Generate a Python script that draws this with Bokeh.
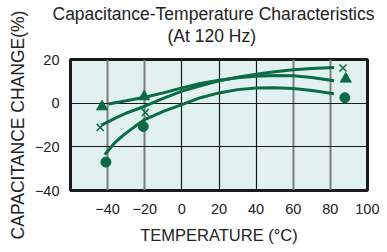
from bokeh.plotting import figure
from bokeh.models import Title, Range1d, FixedTicker, Grid
from bokeh.embed import file_html
from bokeh.resources import INLINE

# --- data ---
tri_curve_t = [-39.5, -30, -20, -10, 0, 10, 20, 30, 40, 50, 60, 70, 82]
tri_curve_v = [-0.4, 1.1, 2.7, 4.7, 7.0, 9.0, 10.5, 11.6, 12.3, 12.7, 12.6, 11.8, 10.3]

x_curve_t = [-43.5, -35, -30, -20, -10, 0, 10, 20, 30, 40, 50, 60, 70, 82]
x_curve_v = [-10.2, -6.5, -4.6, -1.4, 2.2, 5.5, 8.0, 10.2, 11.9, 13.2, 14.4, 15.3, 15.9, 16.3]

circ_curve_t = [-41.5, -36, -31, -25, -20, -10, 0, 10, 20, 30, 40, 50, 60, 70, 82]
circ_curve_v = [-23.5, -18, -14.3, -10.5, -7.5, -3.8, -0.7, 2.5, 4.7, 6.2, 6.9, 7.1, 6.7, 5.8, 4.3]

tri_pts_t = [-43, -20.3, 88.3]
tri_pts_v = [-1.6, 3.0, 11.1]
x_pts_t = [-44, -19.7, 86.8]
x_pts_v = [-11.1, -4.3, 16.1]
circ_pts_t = [-40.9, -20.8, 87.8]
circ_pts_v = [-27.0, -10.7, 2.5]

x_ticks = [-40, -20, 0, 20, 40, 60, 80, 100]
y_ticks = [-40, -20, 0, 20]

FONT = "Liberation Sans"
GREEN = "#0b6b45"
TXT = "#222222"

p = figure(frame_width=297, frame_height=131,
           x_range=Range1d(-60, 100), y_range=Range1d(-40, 20),
           output_backend="svg", toolbar_location=None, title=None,
           min_border_left=70, min_border_right=12, min_border_top=59,
           min_border_bottom=54)

p.background_fill_color = "#e1f1ef"
p.border_fill_color = "white"
p.outline_line_color = "#1a1a1a"
p.outline_line_width = 3

# spacing between the title block and the plot frame
gap = Title(text=" ", text_font=FONT, text_font_size="11px", standoff=0)
p.add_layout(gap, "above")
sub = Title(text="(At 120 Hz)", align="left", offset=97, text_font=FONT,
            text_font_size="17.5px", text_font_style="normal", text_color=TXT, standoff=0)
p.add_layout(sub, "above")
main = Title(text="Capacitance-Temperature Characteristics", align="left", offset=-18,
             text_font=FONT, text_font_size="17.5px", text_font_style="normal",
             text_color=TXT, standoff=0)
p.add_layout(main, "above")

# grids
p.xgrid.ticker = FixedTicker(ticks=[-40, -20, 60, 80])
p.xgrid.grid_line_color = "#7d7d7d"
p.xgrid.grid_line_width = 2
p.ygrid.ticker = FixedTicker(ticks=[-20, 0])
p.ygrid.grid_line_color = "#1a1a1a"
p.ygrid.grid_line_width = 1.2
g0 = Grid(dimension=0, ticker=FixedTicker(ticks=[0, 20, 40]),
          grid_line_color="#1a1a1a", grid_line_width=1.2)
p.add_layout(g0)

for ax in (p.xaxis[0], p.yaxis[0]):
    ax.axis_line_color = None
    ax.major_tick_line_color = None
    ax.minor_tick_line_color = None
    ax.major_label_text_font = FONT
    ax.major_label_text_font_size = "14.5px"
    ax.major_label_text_color = TXT
    ax.axis_label_text_font = FONT
    ax.axis_label_text_font_style = "normal"
    ax.axis_label_text_color = TXT

p.xaxis.ticker = FixedTicker(ticks=x_ticks)
p.yaxis.ticker = FixedTicker(ticks=y_ticks)
p.xaxis.axis_label = "TEMPERATURE (°C)"
p.yaxis.axis_label = "CAPACITANCE CHANGE(%)"
p.xaxis.axis_label_text_font_size = "16.5px"
p.yaxis.axis_label_text_font_size = "17.5px"
p.xaxis.major_label_standoff = 7
p.yaxis.major_label_standoff = 5
p.xaxis.axis_label_standoff = 9
p.yaxis.axis_label_standoff = 4

# curves
p.line(tri_curve_t, tri_curve_v, line_color=GREEN, line_width=3)
p.line(x_curve_t, x_curve_v, line_color=GREEN, line_width=3)
p.line(circ_curve_t, circ_curve_v, line_color=GREEN, line_width=3)

# markers
p.scatter(tri_pts_t, tri_pts_v, marker="triangle", size=11, color=GREEN)
p.scatter(x_pts_t, x_pts_v, marker="x", size=10, line_color=GREEN, line_width=1.5)
p.scatter(circ_pts_t, circ_pts_v, marker="circle", size=10, color=GREEN)

open("out.html", "w").write(file_html(p, INLINE))
